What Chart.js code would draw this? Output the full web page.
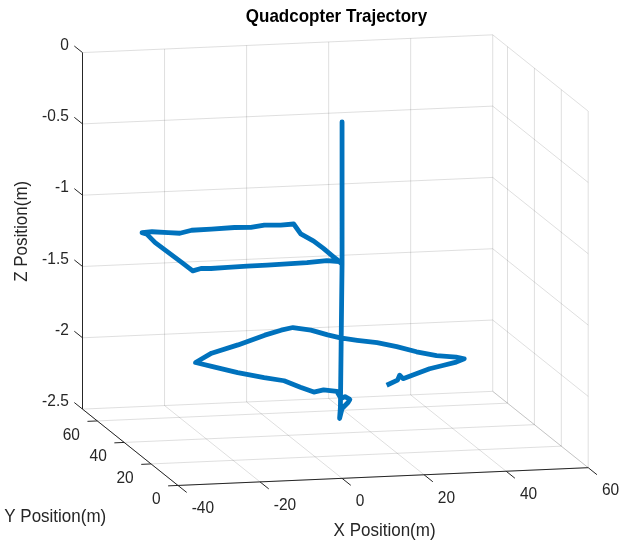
<!DOCTYPE html>
<html>
<head>
<meta charset="utf-8">
<title>Quadcopter Trajectory</title>
<script src="https://cdn.jsdelivr.net/npm/chart.js@4.4.0/dist/chart.umd.min.js"></script>
<style>
  html, body { margin: 0; padding: 0; background: #fff; }
  #wrap { position: relative; width: 632px; height: 549px; }
</style>
</head>
<body>
<div id="wrap"><canvas id="chart"></canvas></div>
<script>
// ── Axis limits and ticks ──
const X_LIM = [-40, 60];
const Y_LIM = [0, 71];
const Z_LIM = [-2.5, 0];
const X_TICKS = [-40, -20, 0, 20, 40, 60];
const Y_TICKS = [0, 20, 40, 60];
const Z_TICKS = [-2.5, -2, -1.5, -1, -0.5, 0];

// ── Flight path (m) ──
const PATH_X = [
  0, 0, 0,
  0.2, 0.2, 0.3, 0.2, -0.7, 0.5, -2.8, -6.6, -10.4, -14.2, -20.0, -24.9, -28.5, -31.0, -34.5, -37.1,
  -36.4, -36.9, -36.7, -36.5, -36.4, -33.8, -31.5, -27.3, -22.4, -17.5, -12.6, -7.6, -2.4, 0.2, 0,
  -0.2, -0.4, -0.6, 0.4, 2.7, 4.0, 3.7, 2.2,
  3.3, 0.7, -2.2, -3.9, -5.8, -9.5, -14.2, -18.4, -21.0, -14.6, -6.1, 2.5, 7.3, 10.8, 14.2, 17.1,
  19.6, 22.8, 26.7, 30.1, 33.2, 36.7, 40.8, 42.2, 39.4, 35.3, 31.3, 26.8, 22.3, 22.5, 20.6, 16.6
];
const PATH_Y = [
  0, 0, 0,
  2.7, 7.2, 14.8, 21.7, 28.6, 37.5, 37.1, 37.7, 36.1, 36.7, 36.1, 35.9, 33.7, 34.6, 36.1, 35.6,
  34.0, 26.4, 17.3, 8.2, 0.0, 1.8, 1.4, 1.7, 2.2, 2.3, 2.5, 2.9, 4.0, 2.7, 0,
  0, 0, 0, 1.2, 3.8, 6.4, 9.1, 7.5,
  14.0, 15.9, 14.3, 19.1, 25.4, 29.0, 34.3, 40.9, 44.9, 52.5, 58.8, 65.1, 67.6, 69.5, 66.5, 62.9,
  61.0, 58.3, 55.4, 51.2, 45.9, 41.7, 39.6, 37.9, 35.3, 32.8, 30.4, 26.6, 22.7, 25.8, 21.6, 17.5
];
const PATH_Z = [
  0, -0.5, -1,
  -1, -1, -1, -1, -1, -1, -1, -1, -1, -1, -1, -1, -1, -1, -1, -1,
  -1, -1, -1, -1, -1, -1, -1, -1, -1, -1, -1, -1, -1, -1, -1,
  -1.5, -2, -2.08, -2.02, -2, -2, -2, -2,
  -2, -2, -2, -2, -2, -2, -2, -2, -2, -2, -2, -1.99, -1.98, -1.98, -1.98, -1.99,
  -2, -2, -2, -2, -2, -2, -2, -2, -2, -2, -2, -2, -2, -2, -2, -2
];

// ── View ──
const AZ = -13.1, EL = 12.4;                              // degrees
const BOX = { cx: 335.5, cy: 260, sh: 424.4, sv: 368.25 }; // plot box centre and scale on the canvas
const X_TICK_LEN = 6.5, Y_TICK_LEN = 2.4, Z_TICK_LEN = 6.1;

const FONT = '"Liberation Sans", Arial, Helvetica, sans-serif';
const TEXT_COLOR = '#262626';
const TEXT_STRETCH = 1.12;   // the figure text is a little taller than wide

// orthographic projection of a data point into the unit plot box
function project(x, y, z) {
  const nx = (x - X_LIM[0]) / (X_LIM[1] - X_LIM[0]) - 0.5;
  const ny = (y - Y_LIM[0]) / (Y_LIM[1] - Y_LIM[0]) - 0.5;
  const nz = (z - Z_LIM[0]) / (Z_LIM[1] - Z_LIM[0]) - 0.5;
  const a = AZ * Math.PI / 180, e = EL * Math.PI / 180;
  return {
    x: nx * Math.cos(a) + ny * Math.sin(a),
    y: -nx * Math.sin(a) * Math.sin(e) + ny * Math.cos(a) * Math.sin(e) + nz * Math.cos(e)
  };
}

function segmentList(build) {
  const pts = [];
  build((p, q) => pts.push(project(...p), project(...q), { x: null, y: null }));
  return pts;
}

const [X0, X1] = X_LIM, [Y0, Y1] = Y_LIM, [Z0, Z1] = Z_LIM;

// floor, back wall and right wall grid
const gridPts = segmentList(line => {
  X_TICKS.forEach(t => { line([t, Y0, Z0], [t, Y1, Z0]); line([t, Y1, Z0], [t, Y1, Z1]); });
  Y_TICKS.forEach(t => { line([X0, t, Z0], [X1, t, Z0]); line([X1, t, Z0], [X1, t, Z1]); });
  Z_TICKS.forEach(t => { line([X0, Y1, t], [X1, Y1, t]); line([X1, Y0, t], [X1, Y1, t]); });
});

// axis lines + tick marks
const axisPts = segmentList(line => {
  line([X0, Y0, Z0], [X1, Y0, Z0]);
  line([X0, Y0, Z0], [X0, Y1, Z0]);
  line([X0, Y1, Z0], [X0, Y1, Z1]);
  X_TICKS.forEach(t => line([t, Y0, Z0], [t, Y0 - X_TICK_LEN, Z0]));
  Y_TICKS.forEach(t => line([X0, t, Z0], [X0 - Y_TICK_LEN, t, Z0]));
  Z_TICKS.forEach(t => line([X0, Y1, t], [X0, Y1 + Z_TICK_LEN, t]));
});

const pathPts = PATH_X.map((x, i) => project(x, PATH_Y[i], PATH_Z[i]));

function drawText(ctx, text, x, y, font, align, angle = 0) {
  ctx.save();
  ctx.translate(x, y);
  if (angle) ctx.rotate(angle);
  ctx.scale(1, TEXT_STRETCH);
  ctx.font = font;
  ctx.textAlign = align;
  ctx.textBaseline = 'middle';
  ctx.fillText(text, 0, 0);
  ctx.restore();
}

// title, tick labels and axis titles
const axisText = {
  id: 'axisText',
  afterDraw(chart) {
    const { ctx, scales: { x: sx, y: sy } } = chart;
    const px = p => ({ x: sx.getPixelForValue(p.x), y: sy.getPixelForValue(p.y) });
    const tickFont = '15.5px ' + FONT;
    const labelFont = '17px ' + FONT;
    ctx.save();
    ctx.fillStyle = '#000';
    drawText(ctx, 'Quadcopter Trajectory', 336.5, 17, 'bold 17px ' + FONT, 'center');
    ctx.fillStyle = TEXT_COLOR;

    Z_TICKS.forEach(t => {
      const e = px(project(X0, Y1 + Z_TICK_LEN, t));
      drawText(ctx, String(t), e.x - 5.5, e.y - 1, tickFont, 'right');
    });
    Y_TICKS.forEach(t => {
      const e = px(project(X0 - Y_TICK_LEN, t, Z0));
      drawText(ctx, String(t), e.x - 7.5, e.y + 13.5, tickFont, 'right');
    });
    X_TICKS.forEach(t => {
      const e = px(project(t, Y0 - X_TICK_LEN, Z0));
      drawText(ctx, String(t), e.x + 5, e.y + 16, tickFont, 'left');
    });

    const xm = px(project((X0 + X1) / 2, Y0, Z0));
    drawText(ctx, 'X Position(m)', xm.x + 1.5, xm.y + 54.5, labelFont, 'center');
    const ym = px(project(X0, (Y0 + Y1) / 2, Z0));
    drawText(ctx, 'Y Position(m)', ym.x - 75, ym.y + 69.5, labelFont, 'center');
    const zm = px(project(X0, Y1, (Z0 + Z1) / 2));
    drawText(ctx, 'Z Position(m)', zm.x - 61, zm.y + 0.5, labelFont, 'center', -Math.PI / 2);
    ctx.restore();
  }
};

const chart = new Chart(document.getElementById('chart'), {
  type: 'scatter',
  data: {
    datasets: [
      { label: 'Trajectory', data: pathPts, showLine: true, borderColor: '#0072BD', borderWidth: 4.8,
        borderCapStyle: 'butt', borderJoinStyle: 'round', pointRadius: 0, clip: false, order: 0 },
      { label: 'Axes', data: axisPts, showLine: true, borderColor: '#262626', borderWidth: 1,
        pointRadius: 0, spanGaps: false, clip: false, order: 1 },
      { label: 'Grid', data: gridPts, showLine: true, borderColor: 'rgba(38,38,38,0.15)', borderWidth: 1,
        pointRadius: 0, spanGaps: false, clip: false, order: 2 }
    ]
  },
  options: {
    animation: false,
    responsive: true,
    maintainAspectRatio: false,
    events: [],
    plugins: {
      legend: { display: false },
      tooltip: { enabled: false },
      title: { display: false }
    },
    scales: {
      x: { type: 'linear', display: false, bounds: 'data', min: -0.75, max: 0.75 },
      y: { type: 'linear', display: false, bounds: 'data', min: -0.75, max: 0.75 }
    }
  },
  plugins: [axisText]
});

// place the plot box where it sits in the figure
function fitToBox(c) {
  const a = c.chartArea, s = c.options.scales;
  s.x.min = (a.left - BOX.cx) / BOX.sh;
  s.x.max = (a.right - BOX.cx) / BOX.sh;
  s.y.min = (BOX.cy - a.bottom) / BOX.sv;
  s.y.max = (BOX.cy - a.top) / BOX.sv;
  c.update();
}
fitToBox(chart);
</script>
</body>
</html>
